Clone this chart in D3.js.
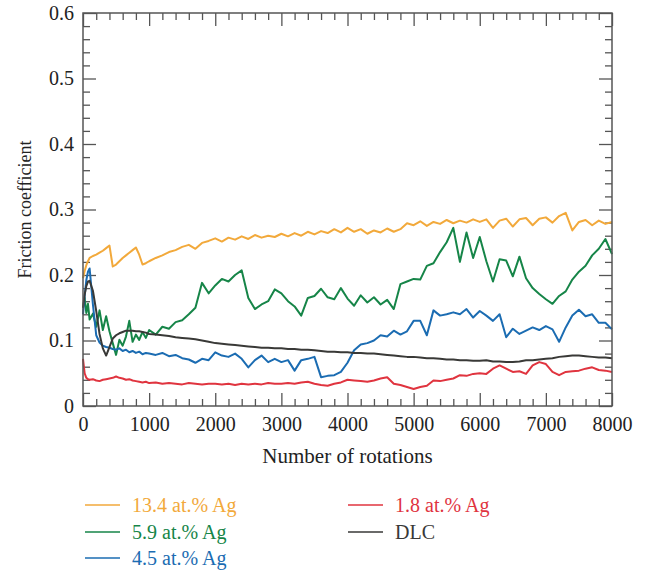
<!DOCTYPE html>
<html>
<head>
<meta charset="utf-8">
<script src="https://cdn.jsdelivr.net/npm/d3@7"></script>
<style>
  body { margin: 0; background: #fff; }
  text { font-family: "Liberation Serif", "DejaVu Serif", serif; }
</style>
</head>
<body>
<div id="chart"></div>
<script>
// Data
const rotations = [0, 25, 50, 75].concat(d3.range(100, 1000, 50), d3.range(1000, 8001, 100))

const ag134 = [
  0.195, 0.206, 0.215, 0.221, 0.226, 0.229, 0.231, 0.234, 0.237, 0.241, 0.245, 0.213, 0.216, 0.221, 0.226, 0.230, 0.234, 0.238, 0.242, 0.231, 0.216, 0.218,
  0.221, 0.226, 0.230, 0.235, 0.238, 0.243, 0.246, 0.240, 0.249, 0.252,
  0.256, 0.251, 0.257, 0.254, 0.259, 0.255, 0.261, 0.257, 0.260, 0.258,
  0.263, 0.259, 0.264, 0.260, 0.266, 0.262, 0.267, 0.264, 0.270, 0.265,
  0.272, 0.266, 0.270, 0.263, 0.268, 0.265, 0.271, 0.266, 0.270, 0.279,
  0.276, 0.282, 0.275, 0.281, 0.278, 0.284, 0.279, 0.283, 0.280, 0.285,
  0.281, 0.285, 0.272, 0.283, 0.286, 0.274, 0.285, 0.287, 0.276, 0.286,
  0.288, 0.280, 0.290, 0.295, 0.268, 0.281, 0.284, 0.276, 0.283, 0.278,
  0.281
]
const ag59 = [
  0.150, 0.165, 0.142, 0.156, 0.132, 0.141, 0.121, 0.146, 0.116, 0.137, 0.114, 0.096, 0.078, 0.101, 0.092, 0.106, 0.130, 0.098, 0.109, 0.101, 0.113, 0.104,
  0.116, 0.109, 0.121, 0.118, 0.128, 0.131, 0.140, 0.150, 0.188, 0.172,
  0.184, 0.194, 0.190, 0.200, 0.207, 0.165, 0.148, 0.155, 0.160, 0.178,
  0.172, 0.160, 0.152, 0.138, 0.165, 0.168, 0.179, 0.166, 0.163, 0.180,
  0.164, 0.153, 0.169, 0.158, 0.166, 0.155, 0.162, 0.148, 0.186, 0.190,
  0.194, 0.193, 0.214, 0.218, 0.235, 0.250, 0.272, 0.220, 0.265, 0.226,
  0.258, 0.221, 0.190, 0.224, 0.222, 0.198, 0.228, 0.195, 0.180, 0.171,
  0.163, 0.156, 0.168, 0.175, 0.193, 0.205, 0.214, 0.230, 0.240, 0.255,
  0.232
]
const ag45 = [
  0.140, 0.168, 0.192, 0.205, 0.210, 0.155, 0.108, 0.097, 0.092, 0.090, 0.089, 0.087, 0.086, 0.088, 0.084, 0.086, 0.082, 0.084, 0.081, 0.083, 0.079, 0.081,
  0.080, 0.078, 0.081, 0.076, 0.078, 0.073, 0.071, 0.066, 0.072, 0.070,
  0.082, 0.077, 0.075, 0.080, 0.072, 0.059, 0.070, 0.077, 0.067, 0.072,
  0.067, 0.070, 0.054, 0.070, 0.072, 0.075, 0.044, 0.046, 0.047, 0.052,
  0.066, 0.085, 0.094, 0.096, 0.100, 0.108, 0.106, 0.115, 0.109, 0.114,
  0.130, 0.130, 0.108, 0.146, 0.138, 0.140, 0.143, 0.140, 0.148, 0.135,
  0.145, 0.138, 0.130, 0.140, 0.105, 0.118, 0.110, 0.115, 0.120, 0.116,
  0.122, 0.117, 0.098, 0.120, 0.138, 0.147, 0.137, 0.140, 0.127, 0.127,
  0.117
]
const ag18 = [
  0.072, 0.050, 0.043, 0.041, 0.040, 0.041, 0.039, 0.038, 0.040, 0.041, 0.042, 0.043, 0.045, 0.043, 0.042, 0.040, 0.041, 0.039, 0.038, 0.037, 0.036, 0.037,
  0.035, 0.036, 0.034, 0.035, 0.034, 0.033, 0.035, 0.034, 0.033, 0.034,
  0.034, 0.033, 0.034, 0.032, 0.034, 0.033, 0.034, 0.033, 0.035, 0.034,
  0.034, 0.035, 0.034, 0.036, 0.037, 0.034, 0.032, 0.031, 0.034, 0.036,
  0.040, 0.039, 0.038, 0.037, 0.039, 0.042, 0.044, 0.034, 0.032, 0.029,
  0.026, 0.029, 0.031, 0.039, 0.038, 0.040, 0.042, 0.047, 0.046, 0.049,
  0.050, 0.049, 0.057, 0.062, 0.057, 0.052, 0.053, 0.049, 0.062, 0.067,
  0.064, 0.052, 0.047, 0.052, 0.053, 0.054, 0.057, 0.059, 0.055, 0.054,
  0.052
]
const dlc = [
  0.150, 0.170, 0.183, 0.190, 0.191, 0.176, 0.145, 0.110, 0.088, 0.077, 0.090, 0.103, 0.108, 0.111, 0.113, 0.115, 0.115, 0.115, 0.114, 0.114, 0.113, 0.112,
  0.110, 0.109, 0.108, 0.107, 0.105, 0.104, 0.103, 0.102, 0.100, 0.098,
  0.096, 0.095, 0.094, 0.093, 0.092, 0.091, 0.090, 0.089, 0.089, 0.088,
  0.088, 0.087, 0.087, 0.086, 0.086, 0.085, 0.084, 0.083, 0.083, 0.082,
  0.082, 0.081, 0.081, 0.080, 0.080, 0.079, 0.078, 0.077, 0.076, 0.075,
  0.075, 0.074, 0.073, 0.073, 0.072, 0.071, 0.071, 0.070, 0.070, 0.069,
  0.069, 0.070, 0.068, 0.068, 0.067, 0.067, 0.068, 0.070, 0.070, 0.071,
  0.072, 0.073, 0.075, 0.076, 0.077, 0.077, 0.076, 0.075, 0.074, 0.074,
  0.073
]

const seriesNames = ['13.4 at.% Ag', '5.9 at.% Ag', '4.5 at.% Ag', '1.8 at.% Ag', 'DLC']
const seriesValues = [ag134, ag59, ag45, ag18, dlc]
const seriesColors = ['#f2a93b', '#168548', '#1b6cb2', '#e0343f', '#393937']
// draw order: back to front
const drawOrder = [0, 1, 3, 2, 4]

const xTicks = [0, 1000, 2000, 3000, 4000, 5000, 6000, 7000, 8000]
const yTicks = [0, 0.1, 0.2, 0.3, 0.4, 0.5, 0.6]

// Dimensions
const dims = { width: 646, height: 571, left: 83, right: 34, top: 13, bottom: 165 }
dims.ctrWidth = dims.width - dims.left - dims.right
dims.ctrHeight = dims.height - dims.top - dims.bottom

const svg = d3.select('#chart').append('svg')
  .attr('width', dims.width)
  .attr('height', dims.height)

const ctr = svg.append('g')
  .attr('transform', `translate(${dims.left},${dims.top})`)

// Scales
const x = d3.scaleLinear().domain([0, 8000]).range([0, dims.ctrWidth])
const y = d3.scaleLinear().domain([0, 0.6]).range([dims.ctrHeight, 0])

const axisColor = '#555'
const minorX = d3.range(0, 8001, 200).filter(v => v % 1000 !== 0)
const minorY = d3.range(0, 31, 1).map(v => v / 50).filter((v, i) => i % 5 !== 0)

function styleAxis(g) {
  g.select('.domain').remove()
  g.selectAll('.tick line').attr('stroke', axisColor).attr('stroke-width', 1.3)
  g.selectAll('.tick text')
    .attr('fill', '#222')
    .style('font-size', '20px')
}

// bottom
ctr.append('g').attr('transform', `translate(0,${dims.ctrHeight})`)
  .call(d3.axisBottom(x).tickValues(minorX).tickSize(-7).tickFormat(''))
  .call(styleAxis)
ctr.append('g').attr('transform', `translate(0,${dims.ctrHeight})`)
  .call(d3.axisBottom(x).tickValues(xTicks).tickSize(-13).tickPadding(11).tickFormat(d3.format('d')))
  .call(styleAxis)
// top
ctr.append('g')
  .call(d3.axisTop(x).tickValues(minorX).tickSize(-7).tickFormat(''))
  .call(styleAxis)
ctr.append('g')
  .call(d3.axisTop(x).tickValues(xTicks).tickSize(-13).tickFormat(''))
  .call(styleAxis)
// left
ctr.append('g')
  .call(d3.axisLeft(y).tickValues(minorY).tickSize(-7).tickFormat(''))
  .call(styleAxis)
ctr.append('g')
  .call(d3.axisLeft(y).tickValues(yTicks).tickSize(-13).tickPadding(9)
    .tickFormat(d => d === 0 ? '0' : d3.format('.1f')(d)))
  .call(styleAxis)
// right
ctr.append('g').attr('transform', `translate(${dims.ctrWidth},0)`)
  .call(d3.axisRight(y).tickValues(minorY).tickSize(-7).tickFormat(''))
  .call(styleAxis)
ctr.append('g').attr('transform', `translate(${dims.ctrWidth},0)`)
  .call(d3.axisRight(y).tickValues(yTicks).tickSize(-13).tickFormat(''))
  .call(styleAxis)

// Lines
const line = d3.line()
  .x((d, i) => x(rotations[i]))
  .y(d => y(d))

ctr.append('g')
  .selectAll('path')
  .data(drawOrder)
  .join('path')
  .attr('d', k => line(seriesValues[k]))
  .attr('fill', 'none')
  .attr('stroke', k => seriesColors[k])
  .attr('stroke-width', 2)
  .attr('stroke-linejoin', 'round')

// Frame
ctr.append('rect')
  .attr('width', dims.ctrWidth)
  .attr('height', dims.ctrHeight)
  .attr('fill', 'none')
  .attr('stroke', axisColor)
  .attr('stroke-width', 1.5)

// Axis titles
svg.append('text')
  .attr('x', dims.left + dims.ctrWidth / 2)
  .attr('y', 463)
  .attr('text-anchor', 'middle')
  .style('font-size', '21px')
  .attr('fill', '#222')
  .text('Number of rotations')

svg.append('text')
  .attr('transform', `translate(31,${dims.top + dims.ctrHeight / 2}) rotate(-90)`)
  .attr('text-anchor', 'middle')
  .style('font-size', '18px')
  .attr('fill', '#222')
  .text('Friction coefficient')

// Legend
const legendPos = [
  { x: 85, y: 505 }, { x: 85, y: 532 }, { x: 85, y: 558 },
  { x: 348, y: 505 }, { x: 348, y: 532 }
]
const legend = svg.append('g')
  .selectAll('g')
  .data(seriesNames)
  .join('g')
  .attr('transform', (d, i) => `translate(${legendPos[i].x},${legendPos[i].y})`)

legend.append('line')
  .attr('x1', 0).attr('x2', 35)
  .attr('stroke', (d, i) => seriesColors[i])
  .attr('stroke-width', 1.5)

legend.append('text')
  .attr('x', 47)
  .attr('dy', '0.35em')
  .style('font-size', '20px')
  .attr('fill', (d, i) => seriesColors[i])
  .text(d => d)
</script>
</body>
</html>
